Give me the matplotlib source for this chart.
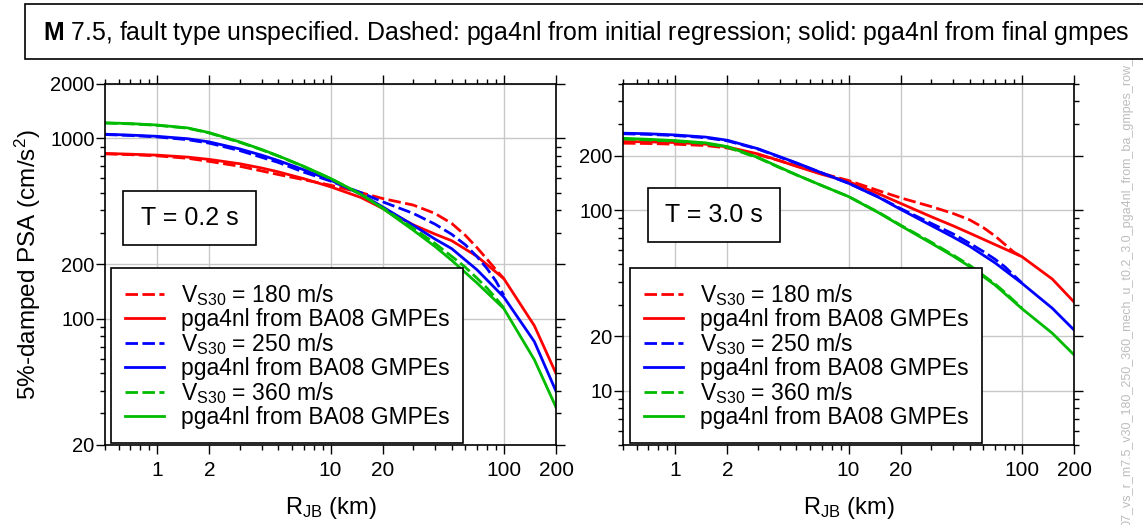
import numpy as np
import matplotlib
matplotlib.use('Agg')
import matplotlib.pyplot as plt
from matplotlib import font_manager
from matplotlib.patches import Rectangle
from matplotlib.ticker import LogLocator, NullFormatter

# distances (km)
r_solid = [0.5, 0.7, 1, 1.5, 2, 3, 4, 5, 7, 10, 15, 20, 30, 40, 50, 70, 100, 150, 200]
r_dash = [0.5, 0.7, 1, 1.5, 2, 3, 4, 5, 7, 10, 15, 20, 30, 40, 50, 60, 70, 80, 90, 100]

# T = 0.2 s, final gmpes (solid)
t02_180_final = [825, 817, 807, 787, 764, 723, 685, 652, 598, 539, 470, 409, 332, 295, 271, 222, 167, 91.6, 49.8]
t02_250_final = [1054, 1042, 1026, 995, 955, 873, 807, 753, 670, 587, 490, 417, 330, 277, 245, 187, 132, 74.8, 39.7]
t02_360_final = [1219, 1207, 1185, 1142, 1075, 955, 868, 800, 700, 600, 489, 409, 310, 252, 211, 158, 114, 59.4, 32.4]
# T = 0.2 s, initial regression (dashed)
t02_180_init = [820, 812, 800, 775, 745, 700, 660, 630, 590, 550, 500, 464, 427, 384, 338, 290, 248, 214, 187, 167]
t02_250_init = [1050, 1037, 1018, 983, 940, 855, 785, 735, 650, 580, 500, 445, 384, 335, 294, 257, 221, 190, 162, 135]
t02_360_init = [1215, 1203, 1181, 1138, 1070, 950, 864, 797, 698, 598, 490, 412, 318, 262, 222, 193, 168, 148, 130, 115]

# T = 3.0 s, final gmpes (solid)
t30_180_final = [240, 239, 237, 232, 224, 205, 188, 175, 158, 144, 123, 109, 92, 82, 74.6, 64.5, 55.3, 41.5, 31]
t30_250_final = [267, 265, 261, 254, 244, 219, 198, 183, 161, 141, 117.5, 101, 82.2, 71.1, 63.1, 51.1, 39.4, 28.6, 21.7]
t30_360_final = [250, 247, 243, 236, 225, 196, 173, 157, 137, 119, 96.5, 82, 65.6, 55.8, 48.7, 38.5, 28.5, 20.8, 15.8]
# T = 3.0 s, initial regression (dashed)
t30_180_init = [235, 234, 232, 228, 221, 203, 188, 176, 160, 146, 128, 117, 104.7, 96, 88.4, 80, 72, 64.5, 58.5, 55.3]
t30_250_init = [265, 263, 259, 252, 242, 218, 197, 182, 161, 141, 118, 102, 84.5, 74, 65.5, 59, 53.5, 48.5, 43.5, 39.6]
t30_360_init = [248, 245, 241, 234, 223, 195, 172, 157, 137, 119, 97, 82.5, 66.5, 56.5, 49.5, 43.5, 39, 35, 31.5, 28.7]

vs30 = [180, 250, 360]
colors = ['#ff0000', '#0000ff', '#00bb00']

families = {f.name for f in font_manager.fontManager.ttflist}
narrow = 'Liberation Sans Narrow' if 'Liberation Sans Narrow' in families else 'Liberation Sans'

plt.rcParams['font.family'] = ['Liberation Sans', 'DejaVu Sans']
plt.rcParams['mathtext.fontset'] = 'custom'
plt.rcParams['mathtext.rm'] = 'Liberation Sans'
plt.rcParams['mathtext.it'] = 'Liberation Sans:italic'
plt.rcParams['mathtext.bf'] = 'Liberation Sans:bold'

fig = plt.figure(figsize=(11.43, 5.25), dpi=100)
W, H = 1143.0, 525.0


def panel(rect, finals, inits, ylim, yticks, tlabel, tbox, leg_x):
    ax = fig.add_axes(rect)
    ax.set_xscale('log')
    ax.set_yscale('log')
    handles = []
    for v, c, fin, ini in zip(vs30, colors, finals, inits):
        hd, = ax.plot(r_dash, ini, color=c, lw=2.0, ls=(0, (4.5, 1.6)),
                      label=r'V$_{\mathrm{S30}}$ = %d m/s' % v)
        hs, = ax.plot(r_solid, fin, color=c, lw=2.0,
                      label='pga4nl from BA08 GMPEs')
        handles += [hd, hs]
    ax.set_xlim(0.5, 200)
    ax.set_ylim(*ylim)
    ax.set_xticks([1, 2, 10, 20, 100, 200])
    ax.set_xticklabels(['1', '2', '10', '20', '100', '200'],
                       fontfamily=narrow, fontsize=15)
    ax.set_yticks(yticks)
    ax.set_yticklabels([str(t) for t in yticks], fontsize=14.5)
    for axis in (ax.xaxis, ax.yaxis):
        axis.set_minor_locator(LogLocator(10, subs=np.arange(2, 10), numticks=20))
        axis.set_minor_formatter(NullFormatter())
    ax.tick_params(which='both', direction='out', top=True, right=True, width=1.0)
    ax.tick_params(which='major', length=6.5)
    ax.tick_params(which='minor', length=3.5)
    ax.tick_params(axis='y', pad=1)
    ax.tick_params(axis='x', pad=5)
    ax.grid(which='major', color='#c8c8c8', lw=1.0)
    ax.set_axisbelow(True)
    for s in ax.spines.values():
        s.set_linewidth(1.2)
    ax.set_xlabel(r'R$_{\mathrm{JB}}$ (km)', fontfamily=narrow, fontsize=17, labelpad=11)
    # boxed period label
    x0, y0, x1, y1 = tbox
    ax.add_patch(Rectangle((x0, y0), x1 - x0, y1 - y0, transform=ax.transAxes,
                           fc='white', ec='black', lw=1.2, zorder=4))
    ax.text((x0 + x1) / 2, (y0 + y1) / 2, tlabel, transform=ax.transAxes,
            ha='center', va='center', fontsize=18, zorder=5)
    leg = ax.legend(handles=handles, loc='lower left', bbox_to_anchor=(leg_x, 0.006),
                    fontsize=16.5, fancybox=False, edgecolor='black', framealpha=1,
                    handlelength=1.7, handletextpad=0.72, borderpad=0.62,
                    labelspacing=0.0, borderaxespad=0)
    leg.get_frame().set_linewidth(1.2)
    leg.set_zorder(6)
    return ax


ax1 = panel([105 / W, 1 - 445 / H, 451 / W, 361 / H],
            [t02_180_final, t02_250_final, t02_360_final],
            [t02_180_init, t02_250_init, t02_360_init],
            (20, 2000), [20, 100, 200, 1000, 2000], 'T = 0.2 s',
            (0.040, 0.554, 0.335, 0.704), 0.013)
ax1.set_ylabel(r'5%-damped PSA (cm/s$^{2}$)', fontsize=17.5, labelpad=5)

ax2 = panel([623 / W, 1 - 445 / H, 451 / W, 361 / H],
            [t30_180_final, t30_250_final, t30_360_final],
            [t30_180_init, t30_250_init, t30_360_init],
            (5, 500), [10, 20, 100, 200], 'T = 3.0 s',
            (0.055, 0.562, 0.348, 0.712), 0.0155)

# file name stamp along the right edge
fig.text(1128 / W, -0.004,
         '07_vs_r_m7.5_v30_180_250_360_mech_u_t0.2_3.0_pga4nl_from_ba_gmpes_row_1',
         rotation=90, ha='center', va='bottom', fontsize=9, color='#bdbdbd')

# title box
fig.patches.append(Rectangle((25 / W, 1 - 59 / H), 1130 / W, 55 / H,
                             transform=fig.transFigure, fc='white', ec='black',
                             lw=1.2, zorder=5))
fig.text(43 / W, 1 - 33 / H,
         r'$\mathbf{M}$ 7.5, fault type unspecified. Dashed: pga4nl from initial '
         'regression; solid: pga4nl from final gmpes',
         ha='left', va='center', fontsize=17.9, zorder=6)

fig.savefig('out.png', dpi=100)
